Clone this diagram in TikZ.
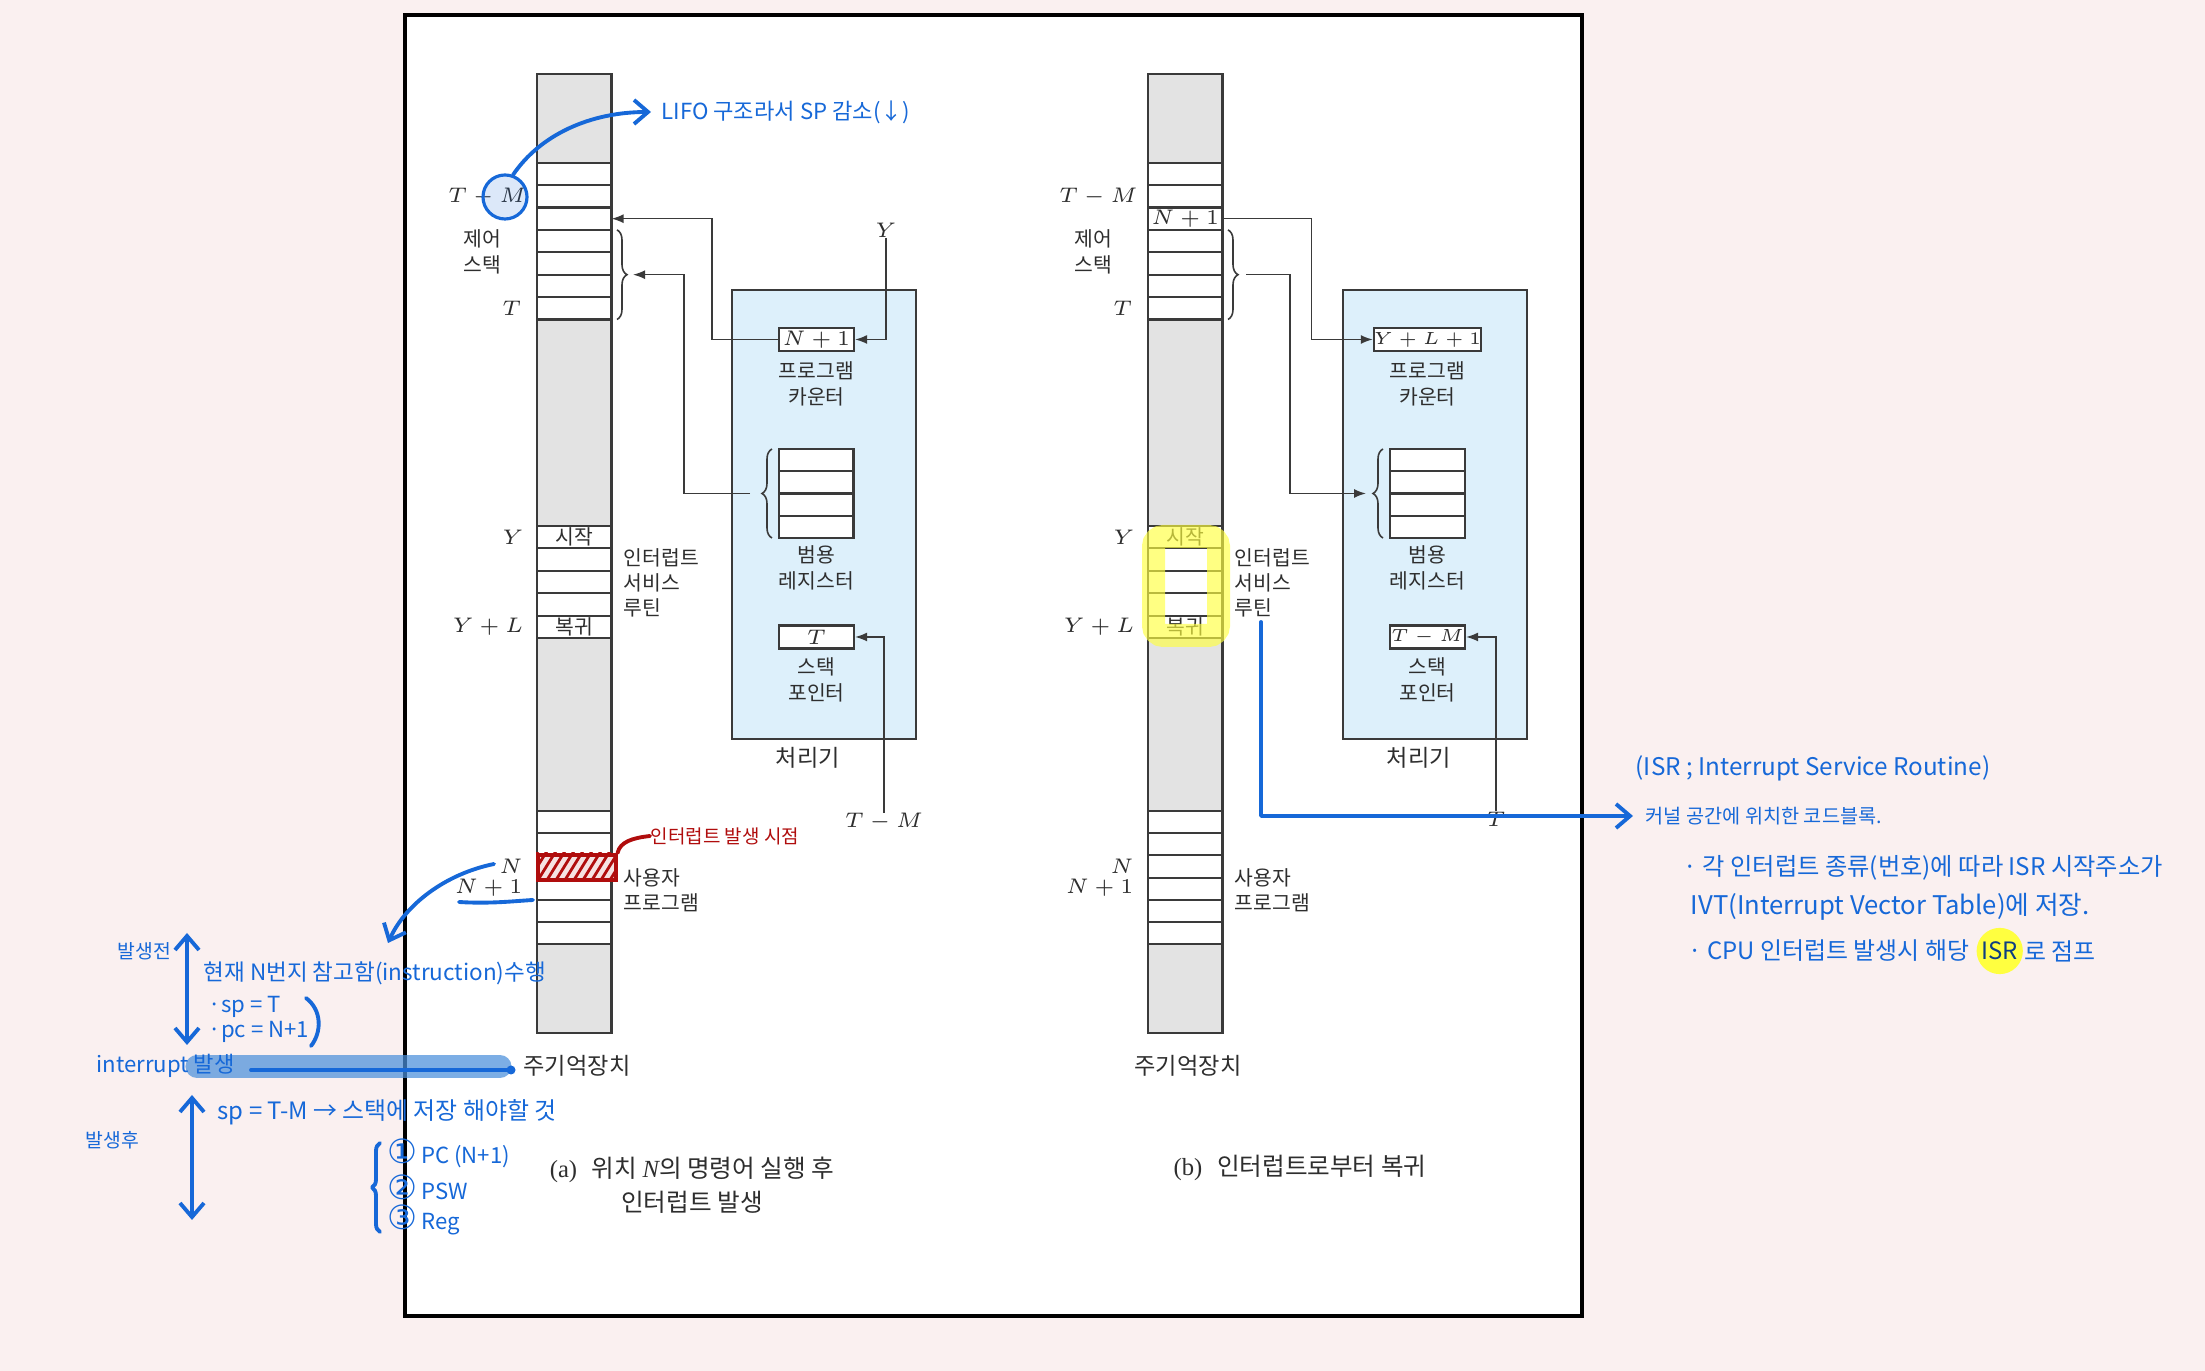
\documentclass[tikz,border=0pt]{standalone}
\usepackage{fontspec}
\setmainfont{Liberation Serif}
\newfontfamily\kr{Noto Sans CJK KR}
\newfontfamily\sym{DejaVu Sans}
\usetikzlibrary{positioning,arrows.meta,decorations.pathreplacing}
\definecolor{txtgray}{HTML}{2E2E2E}
\definecolor{linegray}{HTML}{3A3A3A}
\definecolor{memgray}{HTML}{E3E3E3}
\definecolor{cpublue}{HTML}{DDF0FB}
\definecolor{handblue}{HTML}{1668D8}
\definecolor{hlblue}{HTML}{4A8FDB}
\definecolor{hlyellow}{HTML}{FFFF40}
\definecolor{handred}{HTML}{B00D0D}
\definecolor{bgpink}{HTML}{FAF0F0}
\newcommand{\circnum}[1]{{\sym\fontsize{9.5}{9}\selectfont #1}}
\tikzset{
  barb/.tip={Straight Barb[length=1.4mm,width=2.4mm]},
  memcol/.style={draw=linegray, fill=memgray, line width=0.6pt},
  cell/.style={draw=linegray, fill=white, line width=0.6pt, minimum width=0.745cm, minimum height=0.224cm, inner sep=0pt, outer sep=0pt, anchor=north west},
  box/.style={draw=linegray, fill=white, line width=0.6pt, minimum width=0.75cm, minimum height=0.23cm, inner sep=0pt, text=txtgray},
  cpubox/.style={draw=linegray, fill=cpublue, line width=0.6pt, minimum width=1.84cm, minimum height=4.49cm, inner sep=0pt, anchor=north west},
  lbl/.style={font=\kr\fontsize{5.8}{7.2}\selectfont, text=txtgray, inner sep=0pt, align=center},
  big/.style={font=\kr\fontsize{6.6}{8}\selectfont, text=txtgray, inner sep=0pt},
  mth/.style={font=\fontsize{6.2}{7}\selectfont, text=txtgray, inner sep=0pt},
  capt/.style={font=\kr\fontsize{7}{9.6}\selectfont, text=txtgray, inner sep=0pt, align=center},
  conn/.style={draw=linegray, line width=0.45pt, -{Latex[length=1.2mm,width=0.9mm]}},
  hand/.style={font=\kr\fontsize{6.3}{7}\selectfont, text=handblue, inner sep=0pt, anchor=west},
  handline/.style={draw=handblue, line width=1.1pt, line cap=round, line join=round}
}
\begin{document}
\begin{tikzpicture}[x=0.01cm, y=-0.01cm]
\useasboundingbox (0,0) rectangle (2205,1371);
% 배경과 틀
\fill[bgpink] (0,0) rectangle (2205,1371);
\draw[line width=0.9pt, fill=white] (405,15) rectangle (1582,1316);

% 두 그림 (a), (b) 공통 부분
\foreach \dx/\p/\pcv/\spv/\pcf/\spf in {0/a/N+1/T/6.2/6.2, 611/b/Y+L+1/T-M/4.6/5.5}{
\begin{scope}[shift={(\dx,0)}]
% 주기억장치
\draw[memcol] (537,74) rectangle (611.5,1033);
\foreach \k in {0,...,6} \node[cell] (\p s\k) at (537,{162.7+22.4*\k}) {};
\foreach \k in {0,...,4} \node[cell] (\p i\k) at (537,{526+22.4*\k}) {};
\foreach \k in {0,...,5} \node[cell] (\p u\k) at (537,{811+22.2*\k}) {};
\node[lbl] (\p go) at (\p i0) {시작};
\node[lbl] (\p ret) at (\p i4) {복귀};
\node[mth, anchor=east] (\p tm) at (527,197) {$T-M$};
\node[lbl] (\p cs) at (482,252) {제어\\스택};
\node[mth, anchor=east] (\p t) at (522,308) {$T$};
\node[mth, anchor=east] (\p y) at (524,537) {$Y$};
\node[mth, anchor=east] (\p yl) at (524,627) {$Y+L$};
\node[mth, anchor=east] (\p n) at (523,866) {$N$};
\node[mth, anchor=east] (\p nn) at (523,888) {$N+1$};
\node[lbl, anchor=west, align=left] (\p isr) at (623,583) {인터럽트\\서비스\\루틴};
\node[lbl, anchor=west, align=left] (\p up) at (623,890) {사용자\\프로그램};
\node[big] (\p mem) at (577,1066) {주기억장치};
% 처리기
\node[cpubox] (\p cpu) at (731,289) {};
\node[box, font=\fontsize{\pcf}{7}\selectfont] (\p pc) at (816.5,339.5) {$\pcv$};
\node[lbl] (\p pcl) at (816.5,384) {프로그램\\카운터};
\foreach \k in {0,...,3} \node[cell] (\p r\k) at (779,{449+22.25*\k}) {};
\node[lbl] (\p rl) at (816.5,568) {범용\\레지스터};
\node[box, font=\fontsize{\spf}{7}\selectfont] (\p sp) at (816.5,637) {$\spv$};
\node[lbl] (\p spl) at (816.5,680) {스택\\포인터};
\node[big] (\p cpl) at (808,758) {처리기};
% 괄호
\draw[draw=linegray, line width=0.45pt, decorate, decoration={brace, amplitude=0.1cm}] (617,229.9) -- (617,319.5);
\draw[draw=linegray, line width=0.45pt, decorate, decoration={brace, amplitude=0.1cm}] (772,538) -- (772,449);
\end{scope}
}

% (a) 연결선
\node[mth] (ypc) at (886,230) {$Y$};
\draw[conn] (ypc.south) |- (apc.east);
\draw[conn] (apc.west) -- ++(-66,0) |- (as2.east);
\coordinate (argb) at (750,493.5);
\coordinate (astb) at (633,274.7);
\draw[conn] (argb) -- ++(-66,0) |- (astb);
\node[mth] (tmsp) at (884,822) {$T-M$};
\draw[conn] (tmsp.north) |- (asp.east);
% (b) 연결선
\node[mth] (bnn1) at (bs2) {$N+1$};
\draw[conn] (bs2.east) -- ++(89,0) |- (bpc.west);
\coordinate (bstb) at (1246,274.7);
\coordinate (brgb) at (1366,493.5);
\draw[conn] (bstb) -- ++(44,0) |- (brgb);
\node[mth] (tsp) at (1496,819) {$T$};
\draw[conn] (tsp.north) |- (bsp.east);

% 캡션
\node[capt] (capa) at (692,1185) {{\rmfamily(a)}\hspace{0.6em}위치 {\rmfamily\itshape N}의 명령어 실행 후\\인터럽트 발생};
\node[capt] (capb) at (1300,1168) {{\rmfamily(b)}\hspace{0.6em}인터럽트로부터 복귀};

% 빨간 표시: 인터럽트 발생 시점
\fill[handred!12] (536,853) rectangle (614,878);
\begin{scope}
\clip (536,853) rectangle (614,878);
\foreach \i in {0,...,11} \draw[handred, line width=0.8pt] ({520+9*\i},880) -- ++(18,-29);
\end{scope}
\node[draw=handred, line width=1pt, minimum width=0.78cm, minimum height=0.25cm, inner sep=0pt, anchor=north west] (hatch) at (536,853) {};
\node[hand, text=handred, font=\kr\fontsize{5.4}{6}\selectfont] (redtxt) at (650,836) {인터럽트 발생 시점};
\draw[handline, draw=handred] (hatch.north east) .. controls (620,842) and (632,838) .. (redtxt.west);

% 파란 메모 (왼쪽 위)
\node[hand] (lifo) at (661,112) {LIFO 구조라서 SP 감소(↓)};
\node[circle, draw=handblue, line width=0.9pt, fill=handblue, fill opacity=0.15, minimum size=0.44cm, inner sep=0pt] (tmc) at (505,197) {};
\draw[handline, -barb] (tmc.70) .. controls (540,135) and (590,112) .. ([xshift=-1mm]lifo.west);
\draw[handline] (459,902) .. controls (490,904) and (515,901) .. (533,900);
\coordinate (nfrom) at (494,864);
\coordinate (nto) at (388,943);
\draw[handline, -barb] (nfrom) .. controls (445,874) and (405,905) .. (nto);

% 파란 메모 (왼쪽 아래)
\node[hand, font=\kr\fontsize{5.5}{6}\selectfont] (before) at (117,951) {발생전};
\draw[handline, barb-barb] (187,933) -- (187,1045);
\node[hand, font=\kr\fontsize{6.4}{7}\selectfont] (cur) at (203,973) {현재 N번지 참고함(instruction)수행};
\node[hand] (spt) at (208,1007) {·sp = T};
\node[hand] (pcn) at (208,1032) {·pc = N+1};
\draw[handline] (306,998) .. controls (322,1010) and (322,1032) .. (311,1046);
\draw[hlblue, opacity=0.72, line width=0.23cm, line cap=round] (197,1066.5) -- (500,1066.5);
\node[hand] (intr) at (96,1066) {interrupt 발생};
\draw[handline] (251,1070) -- (508,1070);
\fill[handblue] (511,1070) circle (4.5);
\node[hand, font=\kr\fontsize{6.8}{7}\selectfont] (spm) at (217,1112) {sp = T-M → 스택에 저장 해야할 것};
\draw[handline, barb-barb] (192,1095) -- (192,1220);
\node[hand, font=\kr\fontsize{5.5}{6}\selectfont] (after) at (85,1140) {발생후};
\draw[handline, decorate, decoration={brace, amplitude=0.08cm}] (380,1232) -- (380,1143);
\node[hand] (it1) at (387,1153) {\circnum{①}\,PC (N+1)};
\node[hand] (it2) at (387,1187) {\circnum{②}\,PSW};
\node[hand] (it3) at (387,1220) {\circnum{③}\,Reg};

% 노란 표시와 ISR 설명 (오른쪽)
\draw[hlyellow, opacity=0.65, line width=0.23cm, rounded corners=0.1cm] (1153.5,536.5) rectangle (1218.5,635.5);
\coordinate (isrft) at (1261,622);
\node[hand, font=\kr\fontsize{6.9}{7}\selectfont] (isrdef) at (1635,768) {(ISR ; Interrupt Service Routine)};
\node[hand, font=\kr\fontsize{5.6}{6}\selectfont] (kern) at (1645,816) {커널 공간에 위치한 코드블록.};
\draw[handline, -barb] (isrft) |- ([xshift=-1.2mm]kern.west);
\node[hand, font=\kr\fontsize{6.9}{7}\selectfont] (ivt1) at (1683,868) {· 각 인터럽트 종류(번호)에 따라 ISR 시작주소가};
\node[hand, font=\kr\fontsize{7.3}{7}\selectfont] (ivt2) at (1690,907) {IVT(Interrupt Vector Table)에 저장.};
\node[hand, font=\kr\fontsize{6.8}{7}\selectfont] (cpu1) at (1688,951) {· CPU 인터럽트 발생시 해당};
\node[hand, font=\kr\fontsize{6.8}{7}\selectfont, circle, fill=hlyellow, inner sep=0.6pt, right=0.06cm of cpu1, text=handblue!60!black] (isrmk) {ISR};
\node[hand, font=\kr\fontsize{6.8}{7}\selectfont, right=0pt of isrmk] (jmp) {로 점프};
\end{tikzpicture}
\end{document}
